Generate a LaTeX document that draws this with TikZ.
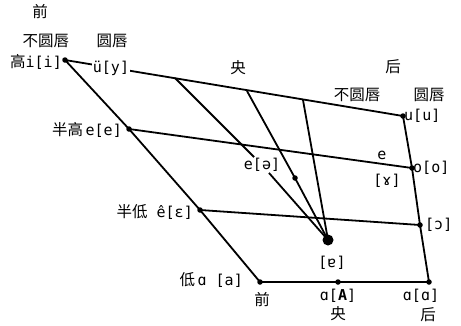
\documentclass[tikz,border=0pt]{standalone}
\usepackage{fontspec}
\setmainfont{DejaVu Sans Mono}
\newfontfamily\cjk{Noto Sans CJK SC}
\newcommand\zh[1]{{\cjk\fontsize{15.5}{17}\selectfont #1}}
\usetikzlibrary{positioning}
\tikzset{
  dot/.style={circle, fill, inner sep=0pt, minimum size=5.5pt},
  bigdot/.style={circle, fill, inner sep=0pt, minimum size=11pt},
  lbl/.style={inner sep=1pt, font=\fontsize{15}{17}\selectfont},
  rim/.style={line width=1.8pt},
}

\begin{document}
\begin{tikzpicture}[x=1pt, y=-1pt]
\useasboundingbox (0,0) rectangle (461,325);
% 舌位点
\coordinate (i) at (65,60);
\coordinate (e) at (129,129);
\coordinate (eh) at (200,210);
\coordinate (a) at (260,282);
\coordinate (u) at (403,116);
\coordinate (o) at (412,168);
\coordinate (oh) at (420,225);
\coordinate (ab) at (429,282);
\coordinate (am) at (338,282);
\coordinate (t1) at (175,78);
\coordinate (t2) at (247,91);
\coordinate (t3) at (303,100);
\coordinate (mid) at (295,178);
\coordinate (low) at (328,240);
\node[lbl] (schwa) at (262,165) {e[ə]};

% 外框
\draw[rim] (i) -- (u) -- (o) -- (oh) -- (ab) -- (am) -- (a) -- (eh) -- (e) -- cycle;
\draw[rim] (e) -- (o);
\draw[rim] (eh) -- (oh);
% 央元音线
\draw[rim] (t1) -- (schwa);
\draw[rim] (t2) -- (mid) -- (low);
\draw[rim] (t3) -- (low);
\draw[rim] (schwa) -- (low);

\foreach \p in {i,e,eh,a,u,o,oh,ab,am,mid}
  \node[dot] at (\p) {};
\node[bigdot] at (low) {};

% 标签
\node[lbl] (qian1) at (40,12) {\zh{前}};
\node[lbl] (bu1) at (46,41) {\zh{不圆唇}};
\node[lbl] (yuan1) at (112,41) {\zh{圆唇}};
\node[lbl, anchor=east] (il) at (63,62) {\zh{高}i[i]};
\node[lbl, fill=white] (yl) at (111,68) {ü[y]};
\node[lbl] (yang1) at (238,68) {\zh{央}};
\node[lbl] (hou1) at (393,67) {\zh{后}};
\node[lbl] (bu2) at (357,95) {\zh{不圆唇}};
\node[lbl] (yuan2) at (429,95) {\zh{圆唇}};
\node[lbl, anchor=west] (ul) at (u) {u[u]};
\node[lbl, anchor=east] (el) at (123,130) {\zh{半高}\,e[e]};
\node[lbl] (ee) at (382,155) {e};
\node[lbl] (gam) at (387,181) {[ɤ]};
\node[lbl, anchor=west] (ol) at (o) {o[o]};
\node[lbl, anchor=east] (ehl) at (194,212) {\zh{半低} ê[ɛ]};
\node[lbl, anchor=west] (ohl) at ([xshift=4pt]oh) {[ɔ]};
\node[lbl] (turned) at (332,263) {[ɐ]};
\node[lbl, anchor=east] (al) at (244,280) {\zh{低}\,ɑ [a]};
\node[lbl] (qian2) at (262,300) {\zh{前}};
\node[lbl] (aml) at (338,296) {ɑ[\textbf{A}]};
\node[lbl] (yang2) at (338,314) {\zh{央}};
\node[lbl] (abl) at (421,296) {ɑ[ɑ]};
\node[lbl] (hou2) at (428,315) {\zh{后}};
\end{tikzpicture}
\end{document}
